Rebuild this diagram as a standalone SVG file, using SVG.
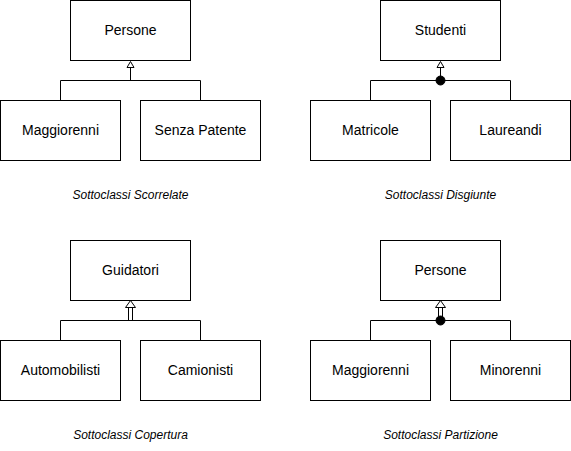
<svg xmlns="http://www.w3.org/2000/svg" width="571" height="451" viewBox="0 0 571 451">
<style>
.box{fill:#fff;stroke:#000;stroke-width:1}
.lbl{font-family:"Liberation Sans",Arial,sans-serif;font-size:14px;fill:#000;text-anchor:middle}
.cap{font-family:"Liberation Sans",Arial,sans-serif;font-size:12px;font-style:italic;fill:#000;text-anchor:middle}
.ln{fill:none;stroke:#000;stroke-width:1}
.tri{fill:#fff;stroke:#000;stroke-width:1}
.dot{fill:#000;stroke:#000;stroke-width:1}
</style>
<rect width="571" height="451" fill="#fff"/>
<g id="connectors">
  <!-- Scorrelate -->
  <path class="ln" d="M60.5 100.5V80.5H200.5V100.5M130.5 80.5V67.5"/>
  <polygon class="tri" points="130.5,61.5 127,67.5 134,67.5"/>
  <!-- Disgiunte -->
  <path class="ln" d="M370.5 100.5V80.5H510.5V100.5M440.5 80.5V67.5"/>
  <polygon class="tri" points="440.5,61.5 437,67.5 444,67.5"/>
  <circle class="dot" cx="440.5" cy="80.5" r="4.5"/>
  <!-- Copertura -->
  <path class="ln" d="M60.5 340.5V320.5H200.5V340.5M128.5 320.5V307.5M132.5 320.5V307.5"/>
  <polygon class="tri" points="130.5,300.5 125.5,307.5 135.5,307.5"/>
  <!-- Partizione -->
  <path class="ln" d="M370.5 340.5V320.5H510.5V340.5M438.5 320.5V307.5M442.5 320.5V307.5"/>
  <polygon class="tri" points="440.5,300.5 435.5,307.5 445.5,307.5"/>
  <circle class="dot" cx="440.5" cy="320.5" r="4.5"/>
</g>
<g id="persone1"><rect class="box" x="70.5" y="0.5" width="120" height="60"/><text class="lbl" x="130.5" y="35">Persone</text></g>
<g id="maggiorenni1"><rect class="box" x="0.5" y="100.5" width="120" height="60"/><text class="lbl" x="60.5" y="135">Maggiorenni</text></g>
<g id="senzapatente"><rect class="box" x="140.5" y="100.5" width="120" height="60"/><text class="lbl" x="200.5" y="135">Senza Patente</text></g>
<text class="cap" x="130.5" y="199">Sottoclassi Scorrelate</text>

<g id="studenti"><rect class="box" x="380.5" y="0.5" width="120" height="60"/><text class="lbl" x="440.5" y="35">Studenti</text></g>
<g id="matricole"><rect class="box" x="310.5" y="100.5" width="120" height="60"/><text class="lbl" x="370.5" y="135">Matricole</text></g>
<g id="laureandi"><rect class="box" x="450.5" y="100.5" width="120" height="60"/><text class="lbl" x="510.5" y="135">Laureandi</text></g>
<text class="cap" x="440.5" y="199">Sottoclassi Disgiunte</text>

<g id="guidatori"><rect class="box" x="70.5" y="240.5" width="120" height="60"/><text class="lbl" x="130.5" y="275">Guidatori</text></g>
<g id="automobilisti"><rect class="box" x="0.5" y="340.5" width="120" height="60"/><text class="lbl" x="60.5" y="375">Automobilisti</text></g>
<g id="camionisti"><rect class="box" x="140.5" y="340.5" width="120" height="60"/><text class="lbl" x="200.5" y="375">Camionisti</text></g>
<text class="cap" x="130.5" y="439">Sottoclassi Copertura</text>

<g id="persone2"><rect class="box" x="380.5" y="240.5" width="120" height="60"/><text class="lbl" x="440.5" y="275">Persone</text></g>
<g id="maggiorenni2"><rect class="box" x="310.5" y="340.5" width="120" height="60"/><text class="lbl" x="370.5" y="375">Maggiorenni</text></g>
<g id="minorenni"><rect class="box" x="450.5" y="340.5" width="120" height="60"/><text class="lbl" x="510.5" y="375">Minorenni</text></g>
<text class="cap" x="440.5" y="439">Sottoclassi Partizione</text>
</svg>
